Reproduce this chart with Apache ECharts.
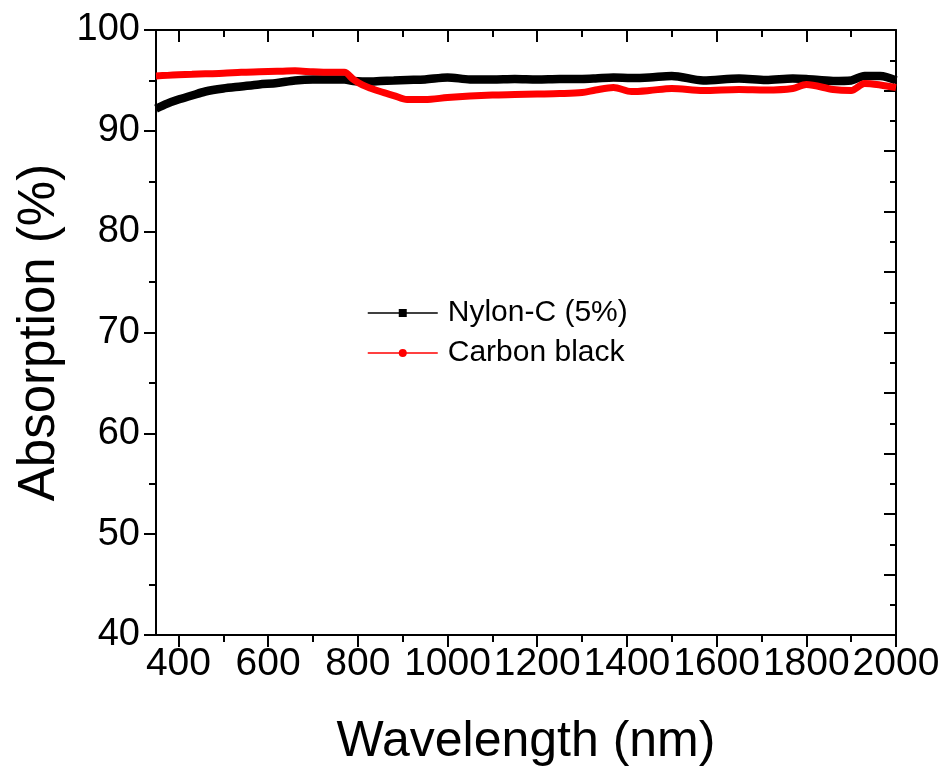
<!DOCTYPE html>
<html>
<head>
<meta charset="utf-8">
<script src="https://cdn.jsdelivr.net/npm/echarts@6/dist/echarts.min.js"></script>
<style>
  html, body { margin: 0; padding: 0; background: #fff; }
  #chart { width: 947px; height: 772px; }
</style>
</head>
<body>
<div id="chart"></div>
<script>
// wavelength (nm) sample points
var wavelengths = [350, 375, 400, 430, 460, 500, 540, 580, 620, 660, 700, 740, 770, 790, 810, 830, 850, 880, 910, 950,
    1000, 1050, 1100, 1150, 1200, 1250, 1300, 1330, 1370, 1410, 1450, 1500, 1570, 1650, 1710, 1770, 1800, 1860, 1900, 1930, 1965, 2000];
var nylonC = [92.2, 92.7, 93.1, 93.5, 93.9, 94.2, 94.4, 94.6, 94.75, 95.0, 95.1, 95.1, 95.1, 94.95, 94.9, 94.9, 94.95, 95.0, 95.05, 95.1,
    95.3, 95.1, 95.1, 95.15, 95.1, 95.15, 95.15, 95.2, 95.3, 95.25, 95.3, 95.45, 95.0, 95.2, 95.05, 95.2, 95.15, 94.95, 95.0, 95.45, 95.45, 95.0];
var carbonBlack = [95.45, 95.5, 95.55, 95.6, 95.65, 95.7, 95.8, 95.85, 95.9, 95.95, 95.85, 95.8, 95.8, 95.1, 94.55, 94.2, 93.9, 93.5, 93.1, 93.1,
    93.3, 93.45, 93.55, 93.6, 93.65, 93.7, 93.8, 94.05, 94.3, 93.9, 94.0, 94.2, 94.0, 94.1, 94.05, 94.2, 94.6, 94.1, 94.0, 94.7, 94.55, 94.3];

var xMajor = [400, 600, 800, 1000, 1200, 1400, 1600, 1800, 2000];
var xMinor = [500, 700, 900, 1100, 1300, 1500, 1700, 1900];
var rightMajor = [40, 46, 52, 58, 64, 70, 76, 82, 88, 94, 100];
var rightMinor = [43, 49, 55, 61, 67, 73, 79, 85, 91, 97];

function pairs(xs, ys) {
    return xs.map(function (x, i) { return [x, ys[i]]; });
}

var black = '#000';
var tickStyle = { color: black, width: 2 };

function extraX(pos, values, len) {
    return {
        type: 'value', min: 350, max: 2000, position: pos,
        axisLine: { show: false, onZero: false },
        axisTick: { show: true, customValues: values, length: len, inside: pos === 'top', lineStyle: tickStyle },
        axisLabel: { show: false },
        splitLine: { show: false }
    };
}

function extraY(values, len) {
    return {
        type: 'value', min: 40, max: 100, position: 'right',
        axisLine: { show: false },
        axisTick: { show: true, customValues: values, length: len, inside: true, lineStyle: tickStyle },
        axisLabel: { show: false },
        splitLine: { show: false }
    };
}

var myChart = echarts.init(document.getElementById('chart'));

var option = {
    backgroundColor: '#fff',
    animation: false,
    grid: { left: 156, right: 51, top: 30, bottom: 137 },
    legend: {
        orient: 'vertical',
        left: 367,
        top: 298,
        padding: 0,
        itemWidth: 70,
        itemHeight: 10,
        itemGap: 10,
        lineStyle: { width: 1.5 },
        textStyle: { fontFamily: 'Liberation Sans', fontSize: 30, lineHeight: 30, color: black, padding: [0, 0, 0, 5] },
        data: ['Nylon-C (5%)', 'Carbon black']
    },
    xAxis: [
        {
            type: 'value', min: 350, max: 2000, position: 'bottom',
            name: 'Wavelength (nm)',
            nameLocation: 'middle',
            nameGap: 82,
            nameTextStyle: { fontFamily: 'Liberation Sans', fontSize: 50, color: black },
            axisLine: { show: true, onZero: false, lineStyle: { color: black, width: 2 } },
            axisTick: { show: true, customValues: xMajor, length: 12, lineStyle: tickStyle },
            axisLabel: {
                customValues: xMajor, margin: 10, hideOverlap: false, showMaxLabel: true,
                fontFamily: 'Liberation Sans', fontSize: 39, color: black,
                formatter: function (v) { return String(v); }
            },
            splitLine: { show: false }
        },
        extraX('bottom', xMinor, 7),
        {
            type: 'value', min: 350, max: 2000, position: 'top',
            axisLine: { show: true, onZero: false, lineStyle: { color: black, width: 2 } },
            axisTick: { show: true, customValues: xMajor, length: 12, inside: true, lineStyle: tickStyle },
            axisLabel: { show: false },
            splitLine: { show: false }
        },
        extraX('top', xMinor, 7)
    ],
    yAxis: [
        {
            type: 'value', min: 40, max: 100, interval: 10, position: 'left',
            name: 'Absorption (%)',
            nameLocation: 'middle',
            nameGap: 86,
            nameTextStyle: { fontFamily: 'Liberation Sans', fontSize: 51, color: black },
            axisLine: { show: true, lineStyle: { color: black, width: 2 } },
            axisTick: { show: true, length: 12, lineStyle: tickStyle },
            minorTick: { show: true, splitNumber: 2, length: 7, lineStyle: tickStyle },
            axisLabel: { margin: 16, fontFamily: 'Liberation Sans', fontSize: 38, color: black },
            splitLine: { show: false }
        },
        {
            type: 'value', min: 40, max: 100, position: 'right',
            axisLine: { show: true, lineStyle: { color: black, width: 2 } },
            axisTick: { show: true, customValues: rightMajor, length: 12, inside: true, lineStyle: tickStyle },
            axisLabel: { show: false },
            splitLine: { show: false }
        },
        extraY(rightMinor, 6)
    ],
    series: [
        {
            name: 'Nylon-C (5%)',
            type: 'line',
            smooth: 0.3,
            symbol: 'rect',
            showSymbol: false,
            color: black,
            lineStyle: { color: black, width: 8.5 },
            data: pairs(wavelengths, nylonC)
        },
        {
            name: 'Carbon black',
            type: 'line',
            smooth: 0.3,
            symbol: 'circle',
            showSymbol: false,
            color: '#ff0000',
            lineStyle: { color: '#ff0000', width: 7 },
            data: pairs(wavelengths, carbonBlack)
        }
    ]
};

myChart.setOption(option);
</script>
</body>
</html>
